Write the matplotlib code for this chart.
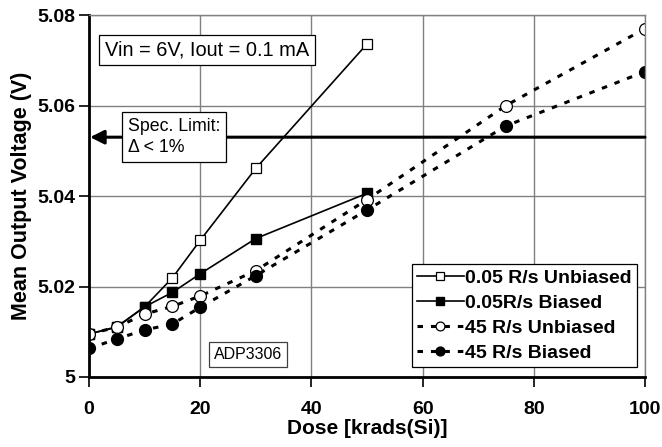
import matplotlib
matplotlib.use("Agg")
import matplotlib.pyplot as plt

plt.rcParams['font.family'] = ['Liberation Sans', 'DejaVu Sans']

# data
dose_slow = [0, 5, 10, 15, 20, 30, 50]
v_slow_unbiased = [5.0095, 5.0111, 5.0155, 5.0219, 5.0302, 5.0461, 5.0736]
v_slow_biased = [5.0095, 5.0110, 5.0155, 5.0187, 5.0228, 5.0306, 5.0406]

dose_fast = [0, 5, 10, 15, 20, 30, 50, 75, 100]
v_fast_unbiased = [5.0095, 5.0110, 5.0139, 5.0156, 5.0179, 5.0235, 5.0392, 5.0600, 5.0770]
v_fast_biased = [5.0063, 5.0084, 5.0104, 5.0117, 5.0154, 5.0224, 5.0369, 5.0555, 5.0675]

spec_limit = 5.053
x_ticks = [0, 20, 40, 60, 80, 100]
y_ticks = [5.0, 5.02, 5.04, 5.06, 5.08]
y_tick_labels = ['5', '5.02', '5.04', '5.06', '5.08']

fig = plt.figure(figsize=(6.62, 4.47), dpi=100)
ax = fig.add_axes([0.1344, 0.1566, 0.9743 - 0.1344, 0.9664 - 0.1566])

# grid
ax.grid(True, color='#808080', linewidth=1.0)
ax.set_axisbelow(True)

# spec limit line with arrow pointing left
ax.annotate('', xy=(0.2, spec_limit), xytext=(100, spec_limit),
            arrowprops=dict(arrowstyle='-|>,head_length=0.6,head_width=0.3',
                            color='black', lw=2.2,
                            mutation_scale=14, shrinkA=0, shrinkB=0))

dash = (0, (1.8, 2.6))
ax.plot(dose_slow, v_slow_unbiased, '-', color='black', lw=1.2, marker='s',
        ms=7.5, mfc='white', mec='black', mew=0.9, label='0.05 R/s Unbiased')
ax.plot(dose_slow, v_slow_biased, '-', color='black', lw=1.2, marker='s',
        ms=7.5, mfc='black', mec='black', label='0.05R/s Biased')
ax.plot(dose_fast, v_fast_unbiased, color='black', lw=2.2, ls=dash,
        marker='o', ms=8.5, mfc='white', mec='black', mew=0.9,
        label='45 R/s Unbiased')
ax.plot(dose_fast, v_fast_biased, color='black', lw=2.2, ls=dash,
        marker='o', ms=8.5, mfc='black', mec='black', label='45 R/s Biased')

ax.set_xlim(0, 100)
ax.set_ylim(5.0, 5.08)
ax.set_xticks(x_ticks)
ax.set_yticks(y_ticks)
ax.set_yticklabels(y_tick_labels)
ax.tick_params(axis='both', direction='out', length=7, width=1.2,
               labelsize=14, pad=3)
ax.tick_params(axis='x', pad=10)
for lab in ax.get_xticklabels() + ax.get_yticklabels():
    lab.set_fontweight('bold')

for side in ['top', 'right']:
    ax.spines[side].set_color('#808080')
    ax.spines[side].set_linewidth(1.0)
for side in ['left', 'bottom']:
    ax.spines[side].set_color('black')
    ax.spines[side].set_linewidth(2.0)

ax.set_xlabel('Dose [krads(Si)]', fontsize=15, fontweight='bold', labelpad=1)
ax.set_ylabel('Mean Output Voltage (V)', fontsize=15.5, fontweight='bold',
              labelpad=4)

box = dict(boxstyle='square,pad=0.28', fc='white', ec='black', lw=0.9)
ax.text(21.2, 5.0722, 'Vin = 6V, Iout = 0.1 mA', fontsize=14.4, bbox=box,
        va='center', ha='center')
box2 = dict(boxstyle='square,pad=0.35', fc='white', ec='black', lw=0.9)
ax.text(7.0, 5.0531, 'Spec. Limit:\n\u0394 < 1%', fontsize=12.8, bbox=box2,
        va='center', ha='left', linespacing=1.3)
box3 = dict(boxstyle='square,pad=0.3', fc='white', ec='#404040', lw=0.9)
ax.text(28.6, 5.0050, 'ADP3306', fontsize=11.5, bbox=box3, va='center',
        ha='center')

leg = ax.legend(loc='lower right', bbox_to_anchor=(0.9856, 0.0276),
                prop={'weight': 'bold', 'size': 14}, frameon=True,
                fancybox=False, edgecolor='black', framealpha=1,
                handlelength=2.4, handletextpad=0.1, borderpad=0.25,
                labelspacing=0.39, borderaxespad=0, markerscale=0.75)
leg.get_frame().set_linewidth(0.9)

fig.savefig('out.png', dpi=100)
